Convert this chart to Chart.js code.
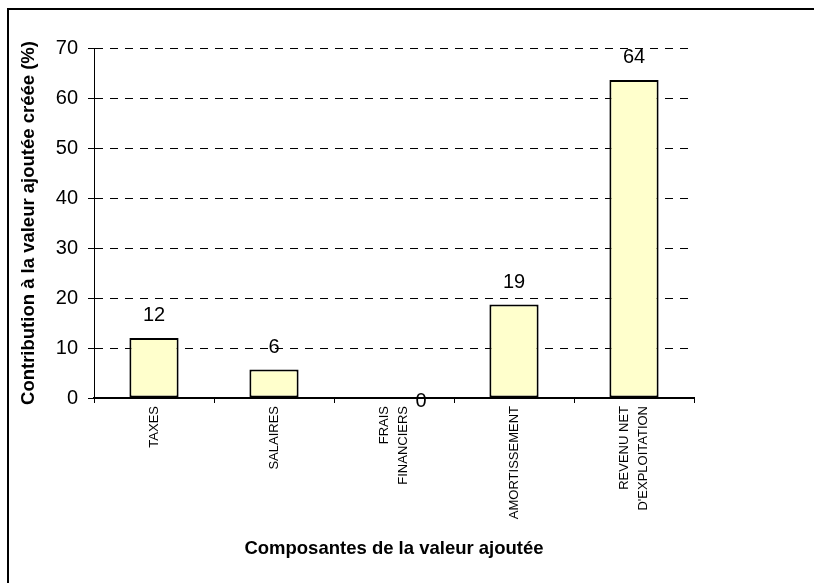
<!DOCTYPE html>
<html>
<head>
<meta charset="utf-8">
<script src="https://cdn.jsdelivr.net/npm/chart.js@4/dist/chart.umd.min.js"></script>
<style>
  html, body { margin: 0; padding: 0; background: #fff; }
  canvas { display: block; }
</style>
</head>
<body>
<canvas id="chart" width="814" height="583"></canvas>
<script>
// categories (multi-line labels) and values
const categories = [['TAXES'], ['SALAIRES'], ['FRAIS', 'FINANCIERS'], ['AMORTISSEMENT'], ['REVENU NET', "D'EXPLOITATION"]];
const values = [12.0, 5.7, 0, 18.7, 63.6];
const y_min = 0;
const y_max = 70;
const y_step = 10;
const y_title = 'Contribution à la valeur ajoutée créée (%)';
const x_title = 'Composantes de la valeur ajoutée';

const font_family = "'Liberation Sans', Arial, Helvetica, sans-serif";

// white background + the frame around the chart (top and left edges visible)
const frame_plugin = {
    id: 'frame',
    beforeDraw(chart) {
        let ctx = chart.ctx;
        ctx.save();
        ctx.fillStyle = '#fff';
        ctx.fillRect(0, 0, chart.width, chart.height);
        ctx.fillStyle = '#000';
        ctx.fillRect(8, 8, chart.width, 2);
        ctx.fillRect(7, 8, 2, chart.height);
        ctx.restore();
    }
};

// rotated category labels, centred on each tick
const category_labels_plugin = {
    id: 'categoryLabels',
    afterDraw(chart) {
        let ctx = chart.ctx;
        let x_scale = chart.scales.x;
        let line_h = 18.5;
        ctx.save();
        ctx.font = '13px ' + font_family;
        ctx.fillStyle = '#000';
        ctx.textAlign = 'right';
        ctx.textBaseline = 'middle';
        chart.data.labels.forEach((lines, i) => {
            let x = x_scale.getPixelForTick(i);
            let y = x_scale.top + 8;
            ctx.save();
            ctx.translate(x, y);
            ctx.rotate(-Math.PI / 2);
            lines.forEach((line, j) => {
                ctx.fillText(line, 0, (j - (lines.length - 1) / 2) * line_h);
            });
            ctx.restore();
        });
        ctx.restore();
    }
};

// value labels above the bars (the zero label sits beside the empty slot)
const value_labels_plugin = {
    id: 'valueLabels',
    afterDatasetsDraw(chart) {
        let ctx = chart.ctx;
        let meta = chart.getDatasetMeta(0);
        ctx.save();
        ctx.font = '20px ' + font_family;
        ctx.fillStyle = '#000';
        ctx.textAlign = 'center';
        ctx.textBaseline = 'alphabetic';
        meta.data.forEach((bar, i) => {
            let v = values[i];
            let x = v > 0 ? bar.x : bar.x + 27;
            let y = v > 0 ? bar.y - 17 : bar.y + 9;
            ctx.fillText(String(Math.round(v)), x, y);
        });
        ctx.restore();
    }
};

let ctx = document.getElementById('chart');
let chart = new Chart(ctx, {
    type: 'bar',
    data: {
        labels: categories,
        datasets: [{
            data: values,
            backgroundColor: '#FFFFCC',
            borderColor: '#000',
            borderWidth: 2,
            borderSkipped: false,
            categoryPercentage: 1,
            barPercentage: 0.41
        }]
    },
    options: {
        responsive: false,
        animation: false,
        devicePixelRatio: 1,
        layout: { padding: { top: 48, right: 120, left: 0, bottom: 0 } },
        plugins: {
            legend: { display: false },
            tooltip: { enabled: false }
        },
        scales: {
            x: {
                grid: {
                    offset: true,
                    drawOnChartArea: false,
                    drawTicks: true,
                    tickLength: 5,
                    tickColor: '#000',
                    tickWidth: 1
                },
                border: { display: true, color: '#000', width: 2 },
                ticks: { display: false },
                title: {
                    display: true,
                    text: x_title,
                    color: '#000',
                    font: { family: font_family, size: 18.5, weight: 'bold' },
                    padding: { top: 0, bottom: 23 }
                },
                afterFit(scale) { scale.height = 185; }
            },
            y: {
                min: y_min,
                max: y_max,
                ticks: {
                    stepSize: y_step,
                    color: '#000',
                    padding: 10,
                    font: { family: font_family, size: 20 }
                },
                grid: {
                    color: '#000',
                    lineWidth: 1,
                    drawTicks: true,
                    tickLength: 6,
                    tickColor: '#000',
                    tickBorderDash: []
                },
                border: { display: true, color: '#000', width: 1, dash: [8, 7] },
                title: {
                    display: true,
                    text: y_title,
                    color: '#000',
                    font: { family: font_family, size: 18.5, weight: 'bold' },
                    padding: { top: 18, bottom: 0 }
                },
                afterFit(scale) { scale.width = 94; }
            }
        }
    },
    plugins: [frame_plugin, category_labels_plugin, value_labels_plugin]
});
</script>
</body>
</html>
